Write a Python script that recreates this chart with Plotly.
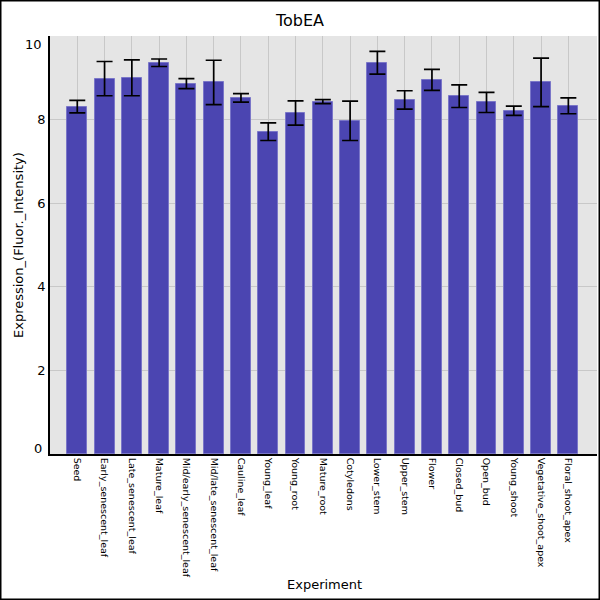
import plotly.graph_objects as go

# tissues on the x axis
experiments = ["Seed", "Early_senescent_leaf", "Late_senescent_leaf", "Mature_leaf",
               "Mid/early_senescent_leaf", "Mid/late_senescent_leaf", "Cauline_leaf",
               "Young_leaf", "Young_root", "Mature_root", "Cotyledons", "Lower_stem",
               "Upper_stem", "Flower", "Closed_bud", "Open_bud", "Young_shoot",
               "Vegetative_shoot_apex", "Floral_shoot_apex"]
expression = [8.31, 8.98, 9.00, 9.36, 8.86, 8.89, 8.52, 7.71, 8.16, 8.43,
              7.97, 9.36, 8.47, 8.95, 8.56, 8.41, 8.21, 8.89, 8.33]
error = [0.15, 0.41, 0.43, 0.09, 0.12, 0.53, 0.10, 0.21, 0.29, 0.05,
         0.47, 0.27, 0.22, 0.25, 0.27, 0.24, 0.11, 0.58, 0.19]
y_ticks = [0, 2, 4, 6, 8, 10]

W, H = 600, 600
ml, mr, mt, mb = 50, 3, 36, 146
pw, ph = W - ml - mr, H - mt - mb

fig = go.Figure()
fig.add_trace(go.Bar(
    x=list(range(len(experiments))), y=expression,
    width=0.73,
    marker=dict(color="#4b45b1", line=dict(color="#7a76c8", width=1)),
    error_y=dict(type="data", array=error, color="black", thickness=1.7, width=8),
))

# the end tick labels sit just inside the plot area, as in the original
ends = [y_ticks[0], y_ticks[-1]]
tick_text = ["" if t in ends else str(t) for t in y_ticks]
end_labels = [dict(text=str(t), xref="paper", yref="y", x=-6 / pw, y=t,
                   yshift=(6 if t == ends[0] else -8),
                   xanchor="right", yanchor="middle", showarrow=False,
                   font=dict(size=13))
              for t in ends]

fig.update_layout(
    width=W, height=H,
    margin=dict(l=ml, r=mr, t=mt, b=mb, autoexpand=False),
    paper_bgcolor="white", plot_bgcolor="#e5e5e5",
    font=dict(family="DejaVu Sans", color="black"),
    title=dict(text="TobEA", x=0.5, xanchor="center", y=1 - 20 / H, yanchor="middle",
               font=dict(size=16)),
    showlegend=False,
    bargap=0,
    shapes=[dict(type="rect", xref="paper", yref="paper",
                 x0=-(ml - 0.75) / pw, x1=1 + (mr - 0.75) / pw,
                 y0=-(mb - 0.75) / ph, y1=1 + (mt - 0.75) / ph,
                 line=dict(color="black", width=1.5), layer="above")],
    annotations=[
        dict(text="Experiment", xref="paper", yref="paper",
             x=(324 - ml) / pw, y=-(584 - mt - ph) / ph,
             xanchor="center", yanchor="middle", showarrow=False, font=dict(size=13)),
        dict(text="Expression_(Fluor._Intensity)", xref="paper", yref="paper",
             x=-(ml - 18) / pw, y=0.5, textangle=-90,
             xanchor="center", yanchor="middle", showarrow=False, font=dict(size=13)),
    ] + end_labels,
)

fig.update_xaxes(
    range=[-1, 19.05], automargin=False,
    tickmode="array", tickvals=list(range(len(experiments))), ticktext=experiments,
    tickangle=90, tickfont=dict(size=9.5),
    showgrid=True, gridcolor="#c8c8c8", gridwidth=1,
    showline=True, linecolor="black", linewidth=1.5,
    ticks="", zeroline=False,
)
fig.update_yaxes(
    range=[0, 10], automargin=False,
    tickmode="array", tickvals=y_ticks, ticktext=tick_text, tickfont=dict(size=13),
    showgrid=True, gridcolor="#c8c8c8", gridwidth=1,
    showline=True, linecolor="black", linewidth=1.5,
    ticks="", zeroline=False,
)

fig.write_html("out.html", config={"displayModeBar": False})

# drop the browser's default body margin so the figure sits at 0,0
with open("out.html", encoding="utf-8") as f:
    page = f.read()
page = page.replace("<head>", "<head><style>body{margin:0;overflow:hidden}</style>", 1)
with open("out.html", "w", encoding="utf-8") as f:
    f.write(page)
